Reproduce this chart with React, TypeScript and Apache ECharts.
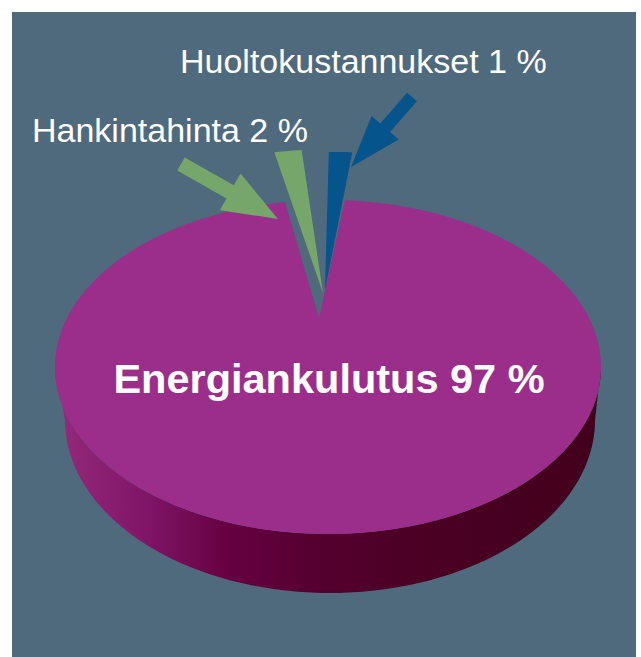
import React, { useEffect, useRef } from "react";
import * as echarts from "echarts";

// ---------- data ----------
const categories = ["Energiankulutus", "Hankintahinta", "Huoltokustannukset"];
const shares = [97, 2, 1];
const unitLabel = "%";

// ---------- styles / layout (kept apart from the data) ----------
const sliceColors = ["#9b2e8a", "#76a66a", "#06548c"];
const panelColor = "#4f697d";
const sideStops = [
  { offset: 0, color: "#942a7a" },
  { offset: 0.14, color: "#84196c" },
  { offset: 0.32, color: "#660041" },
  { offset: 0.47, color: "#550030" },
  { offset: 0.7, color: "#4a0022" },
  { offset: 1, color: "#42001c" },
];
const START_DEG = 2.65; // clockwise from 12 o'clock
const FACE_PAD = 0.9; // visual padding of the main slice's cut edges (deg)
const TOP = { cx: 328, cy: 367, rx: 273, ry: 167 };
const BOTTOM = { cx: 330, cy: 420, rx: 265, ry: 173 };
const APEX = { x: 319, y: 318 };

// visual "pull-out" of the small slices
const explodeDx = [0, 4, 6];
const explodeDy = [0, -25, -28];
const explodeReach = [1, 1.22, 1.17];
const explodeAngleShift = [0, -3.4, 0.05];
const explodeAngleScale = [1, 0.66, 1.17];

// labels
const labelX = [329, 32, 180];
const labelY = [378, 129.5, 60.5];
const labelAlign = ["center", "left", "left"];
const labelSize = [41.5, 34, 34];
const labelWeight = ["bold", "normal", "normal"];

// arrows (annotation pointers)
const arrowFrom = [null, [181, 164], [412, 97]];
const arrowTo = [null, [278, 219], [351, 167]];
const arrowShaft = [0, 15, 13];
const arrowHeadLen = [0, 55, 52];
const arrowHeadW = [0, 42, 36];

// ---------- helpers ----------
const total = shares.reduce((a, b) => a + b, 0);
const sliceStart: number[] = [];
{
  let acc = 0;
  shares.forEach((v) => {
    sliceStart.push(START_DEG + (acc / total) * 360);
    acc += v;
  });
}
const mainIndex = shares.indexOf(Math.max(...shares));
const rad = (d: number) => (d * Math.PI) / 180;
type Ell = { cx: number; cy: number; rx: number; ry: number };
const rim = (e: Ell, deg: number) => [
  e.cx + e.rx * Math.sin(rad(deg)),
  e.cy - e.ry * Math.cos(rad(deg)),
];
const arcPts = (e: Ell, d0: number, d1: number, step = 1) => {
  const n = Math.max(2, Math.ceil(Math.abs(d1 - d0) / step));
  const pts: number[][] = [];
  for (let k = 0; k <= n; k++) pts.push(rim(e, d0 + ((d1 - d0) * k) / n));
  return pts;
};

function arrowPolygon(S: number[], T: number[], sw: number, hl: number, hw: number) {
  const dx = T[0] - S[0];
  const dy = T[1] - S[1];
  const L = Math.hypot(dx, dy);
  const ux = dx / L;
  const uy = dy / L;
  const nx = -uy;
  const ny = ux;
  const B = [T[0] - ux * hl, T[1] - uy * hl];
  return [
    [S[0] + (nx * sw) / 2, S[1] + (ny * sw) / 2],
    [B[0] + (nx * sw) / 2, B[1] + (ny * sw) / 2],
    [B[0] + (nx * hw) / 2, B[1] + (ny * hw) / 2],
    [T[0], T[1]],
    [B[0] - (nx * hw) / 2, B[1] - (ny * hw) / 2],
    [B[0] - (nx * sw) / 2, B[1] - (ny * sw) / 2],
    [S[0] - (nx * sw) / 2, S[1] - (ny * sw) / 2],
  ];
}

function renderItem(params: any, api: any) {
  const i = params.dataIndex;
  const v = api.value(0) as number;
  const a0 = sliceStart[i];
  const span = (v / total) * 360;
  const a1 = a0 + span;
  const children: any[] = [];
  if (i === mainIndex) {
    // side wall (front half only)
    const lo = Math.max(a0, 90);
    const hi = Math.min(a1, 270);
    if (hi > lo) {
      const topArc = arcPts(TOP, lo, hi);
      const botArc = arcPts(BOTTOM, hi, lo);
      children.push({
        type: "polygon",
        shape: { points: topArc.concat(botArc) },
        style: {
          fill: new echarts.graphic.LinearGradient(
            TOP.cx - TOP.rx,
            0,
            TOP.cx + TOP.rx,
            0,
            sideStops,
            true
          ),
        },
      });
    }
    const face = [[APEX.x, APEX.y]].concat(arcPts(TOP, a0 + FACE_PAD, a1 - FACE_PAD));
    children.push({
      type: "polygon",
      shape: { points: face },
      style: { fill: sliceColors[i] },
    });
  } else {
    const mid = (a0 + a1) / 2 + explodeAngleShift[i];
    const half = (span / 2) * explodeAngleScale[i];
    const tip = [APEX.x + explodeDx[i], APEX.y + explodeDy[i]];
    const r = explodeReach[i];
    const base = arcPts(TOP, mid - half, mid + half, 0.5).map((p) => [
      tip[0] + r * (p[0] - APEX.x),
      tip[1] + r * (p[1] - APEX.y),
    ]);
    children.push({
      type: "polygon",
      shape: { points: [tip].concat(base) },
      style: { fill: sliceColors[i] },
    });
  }
  return { type: "group", children };
}

export default function App() {
  const ref = useRef<HTMLDivElement>(null);
  useEffect(() => {
    document.body.style.margin = "0";
    if (!ref.current) return;
    const chart = echarts.init(ref.current, undefined, { renderer: "svg" });

    const graphics: any[] = [
      {
        type: "rect",
        z: -10,
        shape: { x: 12, y: 12, width: 624, height: 645 },
        style: { fill: panelColor },
        silent: true,
      },
    ];
    categories.forEach((name, i) => {
      const S = arrowFrom[i];
      const T = arrowTo[i];
      if (S && T) {
        graphics.push({
          type: "polygon",
          z: 50,
          shape: {
            points: arrowPolygon(S, T, arrowShaft[i], arrowHeadLen[i], arrowHeadW[i]),
          },
          style: { fill: sliceColors[i] },
        });
      }
      graphics.push({
        type: "text",
        z: 100,
        x: labelX[i],
        y: labelY[i],
        style: {
          text: `${name} ${shares[i]} ${unitLabel}`,
          fill: "#ffffff",
          fontSize: labelSize[i],
          fontWeight: labelWeight[i],
          fontFamily: '"Liberation Sans", Arial, Helvetica, sans-serif',
          align: labelAlign[i],
          verticalAlign: "middle",
          textAlign: labelAlign[i],
          textVerticalAlign: "middle",
        },
      });
    });

    chart.setOption({
      animation: false,
      backgroundColor: "#ffffff",
      graphic: { elements: graphics },
      series: [
        {
          type: "custom",
          coordinateSystem: "none",
          z: 2,
          renderItem,
          data: shares.map((v, i) => ({ name: categories[i], value: [v] })),
        },
      ],
    });
    return () => chart.dispose();
  }, []);
  return <div ref={ref} style={{ width: 641, height: 657 }} />;
}
